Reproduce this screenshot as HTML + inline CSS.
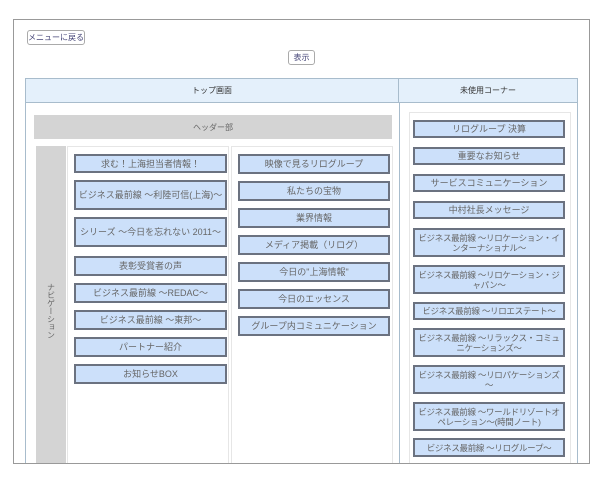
<!DOCTYPE html><html><head><meta charset="utf-8"><style>
*{margin:0;padding:0;box-sizing:border-box}
body{width:600px;height:480px;background:#fff;position:relative;overflow:hidden;font-family:"Liberation Sans","Noto Sans CJK JP",sans-serif}
div{position:absolute}
.b{background:#cce0fa;border:2px solid #6b7280;color:#666;font-size:9px;display:flex;align-items:center;justify-content:center;text-align:center;line-height:10px;overflow:hidden;padding:0 1px}
.r{font-size:8.5px;letter-spacing:-0.3px}
.s{font-size:8px;color:#333;display:flex;align-items:center;justify-content:center}
</style></head><body>
<div style="left:13px;top:19px;width:577px;height:446px;border:1px solid #999;border-bottom:none"></div>
<div class="s" style="left:27px;top:30px;width:58px;height:15px;border:1px solid #aaa;border-radius:3px;color:#447">メニューに戻る</div>
<div class="s" style="left:288px;top:50px;width:27px;height:15px;border:1px solid #aaa;border-radius:3px;color:#447">表示</div>
<div style="left:25px;top:78px;width:553px;height:390px;border:1px solid #a8bccc;background:#fff"></div>
<div class="s" style="left:26px;top:79px;width:373px;height:24px;background:#e4f0fb;border-bottom:1px solid #a8bccc;border-right:1px solid #a8bccc">トップ画面</div>
<div class="s" style="left:399px;top:79px;width:178px;height:24px;background:#e4f0fb;border-bottom:1px solid #a8bccc">未使用コーナー</div>
<div style="left:399px;top:103px;width:1px;height:370px;background:#a8bccc"></div>
<div class="s" style="left:34px;top:115px;width:358px;height:24px;background:#d4d4d4;color:#666">ヘッダー部</div>
<div class="s" style="left:36px;top:146px;width:30px;height:330px;background:#d4d4d4;color:#666;writing-mode:vertical-rl">ナビゲーション</div>
<div style="left:67px;top:146px;width:162px;height:330px;border:1px solid #e6e6e6"></div>
<div style="left:231px;top:146px;width:162px;height:330px;border:1px solid #e6e6e6"></div>
<div style="left:409px;top:112px;width:162px;height:360px;border:1px solid #e6e6e6"></div>
<div class="b" style="left:74px;top:154px;width:153px;height:19px">求む！上海担当者情報！</div>
<div class="b" style="left:74px;top:180px;width:153px;height:30px">ビジネス最前線 ～利陸可信(上海)～</div>
<div class="b" style="left:74px;top:217px;width:153px;height:30px">シリーズ ～今日を忘れない 2011～</div>
<div class="b" style="left:74px;top:256px;width:153px;height:20px">表彰受賞者の声</div>
<div class="b" style="left:74px;top:283px;width:153px;height:20px">ビジネス最前線 ～REDAC～</div>
<div class="b" style="left:74px;top:310px;width:153px;height:20px">ビジネス最前線 ～東邦～</div>
<div class="b" style="left:74px;top:337px;width:153px;height:20px">パートナー紹介</div>
<div class="b" style="left:74px;top:364px;width:153px;height:20px">お知らせBOX</div>
<div class="b" style="left:238px;top:154px;width:152px;height:20px">映像で見るリログループ</div>
<div class="b" style="left:238px;top:181px;width:152px;height:20px">私たちの宝物</div>
<div class="b" style="left:238px;top:208px;width:152px;height:20px">業界情報</div>
<div class="b" style="left:238px;top:235px;width:152px;height:20px">メディア掲載（リログ）</div>
<div class="b" style="left:238px;top:262px;width:152px;height:20px">今日の"上海情報"</div>
<div class="b" style="left:238px;top:289px;width:152px;height:20px">今日のエッセンス</div>
<div class="b" style="left:238px;top:316px;width:152px;height:20px">グループ内コミュニケーション</div>
<div class="b" style="left:413px;top:120px;width:152px;height:18px">リログループ 決算</div>
<div class="b" style="left:413px;top:147px;width:152px;height:18px">重要なお知らせ</div>
<div class="b" style="left:413px;top:174px;width:152px;height:18px">サービスコミュニケーション</div>
<div class="b" style="left:413px;top:201px;width:152px;height:18px">中村社長メッセージ</div>
<div class="b r" style="left:413px;top:228px;width:152px;height:29px">ビジネス最前線 ～リロケーション・インターナショナル～</div>
<div class="b r" style="left:413px;top:265px;width:152px;height:29px">ビジネス最前線 ～リロケーション・ジャパン～</div>
<div class="b r" style="left:413px;top:302px;width:152px;height:18px">ビジネス最前線 ～リロエステート～</div>
<div class="b r" style="left:413px;top:328px;width:152px;height:29px">ビジネス最前線 ～リラックス・コミュニケーションズ～</div>
<div class="b r" style="left:413px;top:365px;width:152px;height:29px">ビジネス最前線 ～リロパケーションズ～</div>
<div class="b r" style="left:413px;top:402px;width:152px;height:29px">ビジネス最前線 ～ワールドリゾートオペレーション～(時間ノート)</div>
<div class="b r" style="left:413px;top:438px;width:152px;height:19px">ビジネス最前線 ～リログループ～</div>
<div style="left:13px;top:463px;width:577px;height:1px;background:#999"></div>
<div style="left:13px;top:464px;width:590px;height:20px;background:#fff"></div>
</body></html>
